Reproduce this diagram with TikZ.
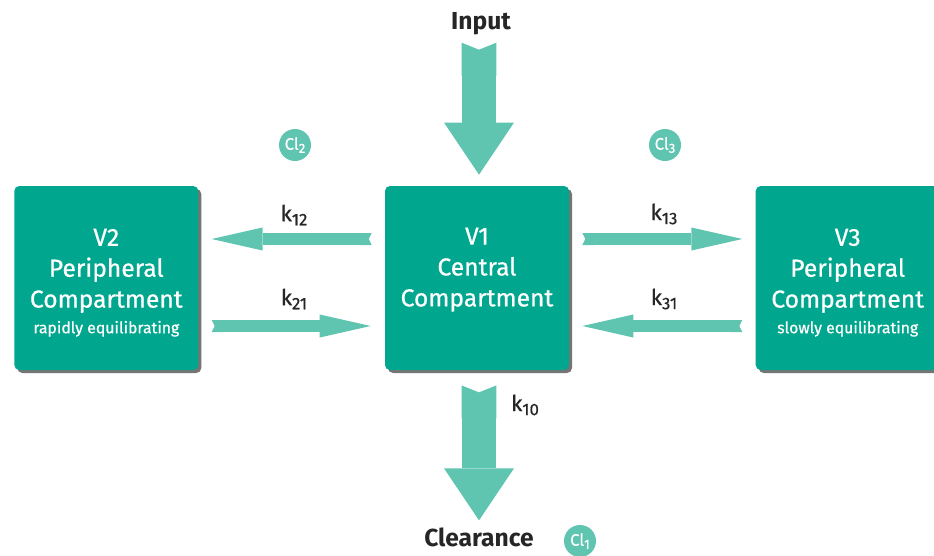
\documentclass[tikz,border=0pt]{standalone}
\usepackage{fontspec}
\setmainfont{Fira Sans}
\newfontfamily\medfont{Fira Sans}[FakeBold=0.7]
\usetikzlibrary{arrows.meta,positioning,calc,shadows}
\definecolor{boxteal}{HTML}{00A68D}
\definecolor{flowteal}{HTML}{5FC4B0}
\newdimen\px \px=0.02cm
\newcommand\kk[1]{k\raisebox{-0.35ex}{\fontsize{9.5}{10}\selectfont#1}}
\newcommand\clr[1]{Cl\raisebox{-0.35ex}{\fontsize{7.5}{8}\selectfont#1}}

\begin{document}
\begin{tikzpicture}[x=0.02cm,y=-0.02cm,node distance=186\px,
  box/.style={fill=boxteal,rounded corners=5\px,minimum width=184\px,minimum height=184\px,text=white,align=center,
    font=\medfont\fontsize{14}{17.6}\selectfont,
    drop shadow={shadow xshift=3\px,shadow yshift=-3\px,fill=black!60,opacity=.9}},
  flow/.style={draw=flowteal,line width=6.83pt,
    {Triangle Cap[reversed,length=1.71pt]}-{Triangle[length=29pt,width=13.1pt,line width=0pt]}},
  bigflow/.style={draw=flowteal,line width=19.9pt,
    {Triangle Cap[reversed,length=4pt]}-{Triangle[length=29.6pt,width=39.8pt,line width=0pt]}},
  lab/.style={font=\medfont\fontsize{12.5}{14}\selectfont,text=black!85},
  head/.style={font=\fontsize{14}{16}\selectfont\bfseries,text=black!85},
  cl/.style={circle,fill=flowteal,text=white,minimum size=32\px,inner sep=0pt,font=\medfont\fontsize{9.5}{10}\selectfont}]
\useasboundingbox (0,0) rectangle (934,555);
\node[box] (v1) at (477,278) {\rule{0pt}{15pt}V1\\Central\\Compartment\\[-3pt]{\fontsize{9}{11}\selectfont\strut}};
\node[box,left=of v1] (v2) {\rule{0pt}{15pt}V2\\Peripheral\\Compartment\\[-3pt]{\fontsize{9}{11}\selectfont rapidly equilibrating}};
\node[box,right=of v1] (v3) {\rule{0pt}{15pt}V3\\Peripheral\\Compartment\\[-3pt]{\fontsize{9}{11}\selectfont slowly equilibrating}};
\node[head] (in) at (481,24) {Input};
\node[head] (out) at (479,537) {Clearance};
\node[lab] (k12) at (294,215) {\kk{12}};
\node[lab] (k21) at (294,299) {\kk{21}};
\node[lab] (k13) at (664,214) {\kk{13}};
\node[lab] (k31) at (664,299) {\kk{31}};
\node[lab] (k10) at (525,405) {\kk{10}};
\node[cl] (cl2) at (295,145) {\clr{2}};
\node[cl] (cl3) at (665,145) {\clr{3}};
\node[cl] (cl1) at (580,541) {\clr{1}};
% transfer between compartments
\draw[flow] ($(v1.west)+(-13,-39)$) -- ($(v2.east)+(13,-39)$);
\draw[flow] ($(v2.east)+(13,48)$) -- ($(v1.west)+(-14,48)$);
\draw[flow] ($(v1.east)+(13,-39)$) -- ($(v3.west)+(-13,-39)$);
\draw[flow] ($(v3.west)+(-13,48)$) -- ($(v1.east)+(13,48)$);
% dosing and elimination
\draw[bigflow] ($(v1.north)+(2,-143)$) -- ($(v1.north)+(2,-11)$);
\draw[bigflow] ($(v1.south)+(2,15)$) -- ($(v1.south)+(2,150)$);
\end{tikzpicture}
\end{document}
